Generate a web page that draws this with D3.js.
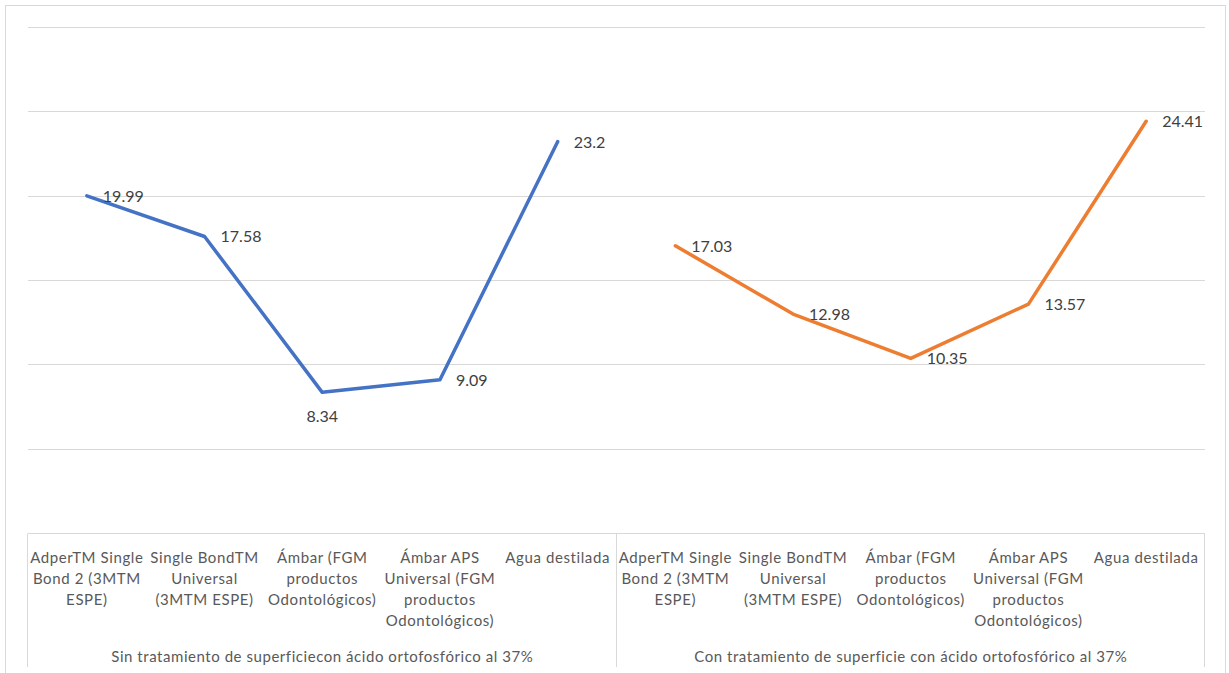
<!DOCTYPE html>
<html>
<head>
<meta charset="utf-8">
<script src="https://cdn.jsdelivr.net/npm/d3@7"></script>
<style>
    body { margin: 0; background: #fff; }
    text { font-family: Lato, "Open Sans", sans-serif; }
    .grid line { stroke: #d9d9d9; stroke-width: 1; }
    .cat-label { fill: #595959; font-size: 15px; letter-spacing: 0.6px; }
    .group-label { fill: #595959; font-size: 15px; letter-spacing: 0.55px; }
    .data-label { fill: #404040; font-size: 16px; }
</style>
</head>
<body>
<div id="chart-area"></div>
<script>

// Categories (one set per group, lines split by \n like in the original axis)
const categories = [
    "AdperTM Single\nBond 2 (3MTM\nESPE)",
    "Single BondTM\nUniversal\n(3MTM ESPE)",
    "Ámbar (FGM\nproductos\nOdontológicos)",
    "Ámbar APS\nUniversal (FGM\nproductos\nOdontológicos)",
    "Agua destilada"
];

const groups = [
    "Sin tratamiento de superficiecon ácido ortofosfórico al 37%",
    "Con tratamiento de superficie con ácido ortofosfórico al 37%"
];

const sinTratamiento = [19.99, 17.58, 8.34, 9.09, 23.2];
const conTratamiento = [17.03, 12.98, 10.35, 13.57, 24.41];

const seriesColors = ["#4472C4", "#ED7D31"];
const yTicks = [5, 10, 15, 20, 25, 30];


class LineChart {

    constructor(parentElement) {
        this.parentElement = parentElement;
        this.displayData = [];

        this.initVis();
    }

    /*
     * Static content: svg, scales, frame
     */
    initVis() {
        let vis = this;

        vis.width = 1229;
        vis.height = 673;

        vis.plot = {left: 28, right: 1205, top: 27, bottom: 533};

        vis.svg = d3.select("#" + vis.parentElement).append("svg")
            .attr("width", vis.width)
            .attr("height", vis.height);

        // chart border
        vis.svg.append("rect")
            .attr("x", 5.5)
            .attr("y", 5.5)
            .attr("width", 1220)
            .attr("height", 680)
            .attr("fill", "none")
            .attr("stroke", "#d9d9d9");

        vis.x = d3.scaleBand()
            .range([vis.plot.left, vis.plot.right]);

        vis.y = d3.scaleLinear()
            .domain([0, 30])
            .range([vis.plot.bottom, vis.plot.top]);

        vis.wrangleData();
    }

    /*
     * Put both groups on one category axis
     */
    wrangleData() {
        let vis = this;

        let allValues = [sinTratamiento, conTratamiento];
        vis.displayData = groups.map((g, gi) => ({
            group: g,
            color: seriesColors[gi],
            values: allValues[gi].map((v, i) => ({key: gi + "-" + i, cat: categories[i], value: v}))
        }));

        vis.x.domain(vis.displayData.flatMap(d => d.values.map(v => v.key)));

        vis.updateVis();
    }

    updateVis() {
        let vis = this;

        // horizontal gridlines
        vis.svg.append("g")
            .attr("class", "grid")
            .selectAll("line")
            .data(yTicks)
            .join("line")
            .attr("x1", vis.plot.left)
            .attr("x2", vis.plot.right)
            .attr("y1", d => Math.round(vis.y(d)) + 0.5)
            .attr("y2", d => Math.round(vis.y(d)) + 0.5);

        // category table (axis line + separators)
        let table = vis.svg.append("g").attr("class", "cat-table");
        let y0 = Math.round(vis.y(0)) + 0.5;

        table.append("line")
            .attr("x1", vis.plot.left).attr("x2", vis.plot.right)
            .attr("y1", y0).attr("y2", y0)
            .attr("stroke", "#d9d9d9");

        let seps = [vis.plot.left, vis.x("1-0"), vis.plot.right];
        table.selectAll(".sep")
            .data(seps)
            .join("line")
            .attr("class", "sep")
            .attr("x1", d => Math.round(d) - 0.5)
            .attr("x2", d => Math.round(d) - 0.5)
            .attr("y1", y0)
            .attr("y2", 667)
            .attr("stroke", "#d9d9d9");

        // category labels
        let allCats = vis.displayData.flatMap(d => d.values);
        table.selectAll(".cat-label")
            .data(allCats)
            .join("text")
            .attr("class", "cat-label")
            .attr("text-anchor", "middle")
            .attr("transform", d => "translate(" + (vis.x(d.key) + vis.x.bandwidth() / 2) + ",563)")
            .selectAll("tspan")
            .data(d => d.cat.split("\n"))
            .join("tspan")
            .attr("x", 0)
            .attr("y", (d, i) => i * 21)
            .text(d => d);

        // group labels
        table.selectAll(".group-label")
            .data(vis.displayData)
            .join("text")
            .attr("class", "group-label")
            .attr("text-anchor", "middle")
            .attr("x", d => {
                let first = vis.x(d.values[0].key);
                let last = vis.x(d.values[d.values.length - 1].key) + vis.x.bandwidth();
                return (first + last) / 2;
            })
            .attr("y", 662)
            .text(d => d.group);

        // lines
        let line = d3.line()
            .x(d => vis.x(d.key) + vis.x.bandwidth() / 2)
            .y(d => vis.y(d.value));

        vis.svg.selectAll(".series")
            .data(vis.displayData)
            .join("path")
            .attr("class", "series")
            .attr("d", d => line(d.values))
            .attr("fill", "none")
            .attr("stroke", d => d.color)
            .attr("stroke-width", 3.5)
            .attr("stroke-linejoin", "round")
            .attr("stroke-linecap", "round");

        // data labels (right of point, the lowest blue one below)
        vis.svg.selectAll(".data-label")
            .data(allCats)
            .join("text")
            .attr("class", "data-label")
            .attr("text-anchor", d => d.key === "0-2" ? "middle" : "start")
            .attr("x", d => vis.x(d.key) + vis.x.bandwidth() / 2 + (d.key === "0-2" ? 0 : 16))
            .attr("y", d => vis.y(d.value) + (d.key === "0-2" ? 30 : 6))
            .text(d => d.value);
    }
}

new LineChart("chart-area");

</script>
</body>
</html>
